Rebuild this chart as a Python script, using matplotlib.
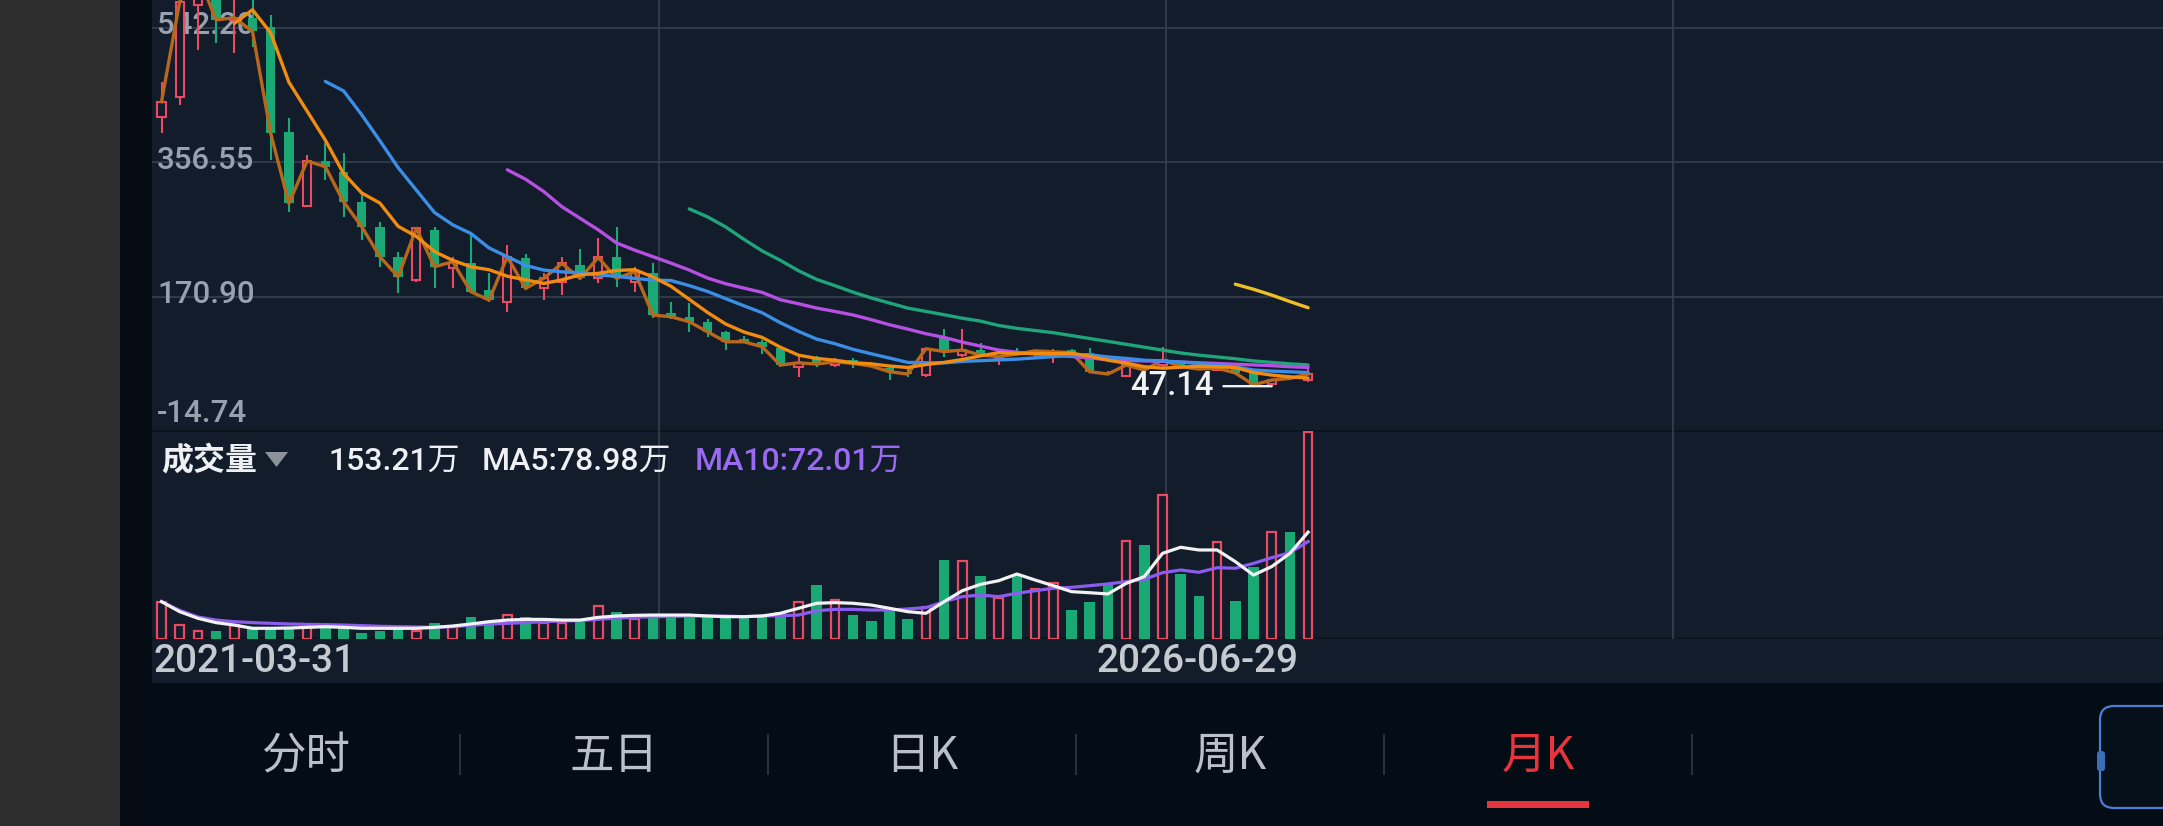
import numpy as np
import matplotlib
matplotlib.use('Agg')
import matplotlib.pyplot as plt
from matplotlib.patches import Rectangle, Polygon, FancyBboxPatch
from matplotlib.transforms import IdentityTransform

W, H = 2163, 826
DPI = 100

# ---------------- data ----------------
first_date = '2021-03-31'
last_date = '2026-06-29'
price_ticks = [542.20, 356.55, 170.90, -14.74]

opens = [419.3, 446.9, 574.0, 595.0, 553.0, 556.0, 543.6, 398.6, 296.4, 358.1,
         343.3, 301.9, 267.4, 225.9, 193.7, 262.8, 209.8, 216.7, 179.9, 163.8,
         223.6, 182.2, 191.4, 214.4, 196.0, 225.9, 191.4, 202.9, 148.0, 143.1,
         136.1, 122.3, 111.7, 108.5, 99.3, 73.1, 84.1, 76.3, 83.2, 78.6,
         71.7, 67.1, 62.5, 115.0, 90.1, 97.0, 85.0, 94.7, 92.0, 86.9,
         97.0, 92.4, 67.1, 61.1, 71.7, 76.3, 78.6, 74.0, 70.0, 72.0,
         65.5, 49.5, 61.1, 55.6]
highs = [467.7, 590.0, 625.0, 600.0, 585.0, 585.0, 559.7, 417.0, 366.4, 382.5,
         368.7, 313.4, 274.3, 232.9, 267.4, 267.4, 225.9, 255.9, 202.9, 242.1,
         229.6, 202.9, 225.0, 236.5, 251.3, 266.5, 212.1, 216.7, 164.0, 161.5,
         139.4, 123.7, 116.4, 110.8, 101.6, 86.9, 88.7, 85.5, 85.5, 80.9,
         73.1, 71.7, 100.0, 125.6, 125.6, 107.2, 89.0, 99.3, 97.0, 97.9,
         97.9, 99.3, 68.0, 78.0, 74.0, 101.6, 80.0, 76.0, 74.0, 73.0,
         66.0, 57.0, 62.5, 71.7]
lows = [396.3, 435.4, 511.4, 520.6, 506.8, 516.0, 359.5, 288.1, 295.0, 331.8,
        281.2, 249.0, 212.1, 175.3, 191.4, 182.2, 182.2, 175.3, 163.8, 150.0,
        179.9, 166.1, 173.0, 193.7, 189.1, 183.6, 177.6, 140.8, 140.0, 122.3,
        114.5, 97.0, 106.2, 91.5, 73.1, 60.2, 74.0, 73.1, 71.7, 73.1,
        55.6, 60.2, 60.2, 88.0, 87.8, 87.8, 76.3, 90.0, 88.0, 79.5,
        92.4, 64.8, 63.0, 61.0, 67.1, 74.0, 72.0, 69.0, 68.0, 64.0,
        48.0, 47.14, 56.0, 53.3]
closes = [440.0, 578.0, 615.0, 553.0, 556.0, 537.0, 396.3, 299.6, 358.1, 350.3,
          301.9, 267.4, 225.9, 198.3, 265.1, 212.1, 219.0, 177.6, 166.1, 225.9,
          182.2, 196.0, 216.7, 196.0, 225.0, 196.0, 205.2, 145.4, 143.0, 136.1,
          122.3, 108.5, 108.5, 101.6, 76.3, 79.5, 77.7, 80.9, 78.6, 74.9,
          67.1, 63.9, 98.9, 95.0, 97.0, 90.1, 88.0, 91.5, 96.0, 94.7,
          93.4, 67.1, 63.9, 76.3, 69.4, 83.2, 74.0, 70.8, 72.0, 65.5,
          49.0, 55.6, 57.9, 63.9]

ma5 = [None] * 4 + [548, 567, 535, 467, 427, 387, 341, 314, 300, 268,
                    254, 233, 221, 212, 208, 199, 194, 189, 194, 201,
                    203, 207, 208, 198, 185, 167, 149, 133, 122, 114.5,
                    101, 90, 85.5, 83, 79.5, 78, 75, 73, 77, 80,
                    84, 89, 93.5, 92.3, 92.5, 92, 92.7, 88.5, 83, 79,
                    74, 72, 73.4, 74.7, 74, 73, 66, 62.5, 60, 58.4]
ma10 = [None] * 9 + [468, 455, 422, 386, 349, 318, 287, 270, 258, 238,
                     226, 214, 207.5, 205, 204, 200.6, 199, 196, 193.7, 193,
                     186, 178, 168, 158.2, 148.6, 134.8, 122.8, 112.2, 105.8, 98,
                     91.9, 86, 80, 79.5, 79.3, 81.4, 82.4, 83.4, 84.5, 86.2,
                     88, 90, 90.5, 87.5, 85.5, 83, 82, 80.5, 78.5, 76.5,
                     73.6, 69.5, 68, 67, 66]
ma20 = [None] * 19 + [346, 333, 316, 295, 279, 263, 245, 235, 226, 217,
                      207.5, 196.5, 188.6, 182.6, 176.7, 166.5, 161, 155, 150.4, 145.5,
                      139, 132, 126, 119.6, 114.5, 108, 102.5, 97, 94, 91.6,
                      89.6, 88.2, 86.1, 83.8, 82.6, 82, 81.5, 80.5, 79.5, 78.5,
                      77.5, 76.5, 75.5, 74, 73]
ma30 = [None] * 29 + [292, 281, 267, 250, 234, 221, 206.6, 194.6, 186, 177,
                      169, 162, 155, 150.4, 145.8, 141, 137, 131, 127, 124,
                      121, 117, 113, 109, 105, 101, 97, 93, 90, 87.5,
                      85, 82, 80, 78, 76.5]
ma60 = [None] * 59 + [188, 181, 173, 164, 155.5]

volumes = [27.6, 10.3, 6.2, 6.2, 10.3, 9.1, 8.6, 8.6, 8.6, 9.1,
           7.9, 4.7, 6.2, 7.1, 6.2, 12.1, 9.1, 16.5, 11.6, 17.7,
           16.5, 12.1, 12.1, 14.5, 24.4, 20.2, 14.5, 16.0, 16.0, 18.5,
           16.0, 17.0, 16.5, 16.5, 20.2, 27.6, 39.9, 28.8, 17.7, 13.3,
           22.7, 14.8, 23.9, 58.4, 57.9, 46.6, 30.1, 47.3, 36.7, 41.1,
           21.4, 27.6, 39.9, 72.7, 69.5, 106.7, 48.0, 31.8, 71.9, 28.1,
           53.5, 79.3, 78.8, 153.21]
vol_ma5 = [27.6, 20.2, 15.3, 12.1, 10.3, 7.9, 7.9, 8.1, 8.6, 9.1,
           8.6, 7.9, 7.9, 7.9, 7.9, 8.6, 9.6, 11.1, 12.8, 14.0,
           14.5, 14.5, 14.0, 14.0, 16.0, 17.0, 17.5, 17.7, 17.7, 17.7,
           17.0, 16.5, 16.5, 17.0, 19.0, 22.7, 26.4, 26.9, 26.4, 25.1,
           22.7, 20.2, 19.0, 27.6, 35.7, 40.4, 43.1, 48.0, 43.6, 39.4,
           35.0, 34.2, 33.3, 41.1, 46.1, 63.3, 67.8, 65.8, 65.8, 57.2,
           47.3, 53.5, 63.3, 78.98]
vol_ma10 = [27.6, 21.2, 16.3, 14.0, 12.8, 12.1, 11.6, 11.1, 10.8, 10.6,
            10.3, 9.9, 9.4, 9.1, 8.9, 8.6, 9.1, 10.1, 11.1, 11.6,
            12.1, 12.8, 13.3, 13.6, 14.5, 15.5, 16.0, 16.5, 16.7, 17.0,
            17.0, 17.0, 16.5, 17.0, 17.2, 17.7, 20.9, 21.9, 21.9, 21.4,
            21.4, 22.2, 23.2, 27.6, 31.3, 32.5, 31.3, 33.8, 35.7, 37.5,
            38.2, 39.4, 40.7, 42.4, 44.1, 49.0, 51.0, 49.3, 52.7, 52.3,
            55.9, 60.1, 63.8, 72.01]

vol_label = '成交量'
tabs = ['分时', '五日', '日K', '周K', '月K']
active_tab = '月K'

# ---------------- style ----------------
BG = '#121c2b'
GRID = '#364150'
RED = '#ec4a62'
GREEN = '#1aa874'
CLOSE_C = '#b9681b'
MA5_C = '#f28c10'
MA10_C = '#3a8ee6'
MA20_C = '#b84fe3'
MA30_C = '#1fa57a'
MA60_C = '#f0bf25'
VMA5_C = '#f2f2f2'
VMA10_C = '#8b5cf0'
NUMF = ['Roboto', 'Noto Sans CJK SC', 'DejaVu Sans']
CJKF = ['Noto Sans CJK SC', 'DejaVu Sans']

fig = plt.figure(figsize=(W / DPI, H / DPI), dpi=DPI)
fig.patch.set_facecolor(BG)


def fx(x):
    return x / W


def fy(y):
    return 1 - y / H


def prect(x0, y0, x1, y1, color, z=-10):
    fig.add_artist(Rectangle((fx(x0), fy(y1)), (x1 - x0) / W, (y1 - y0) / H,
                             transform=fig.transFigure, facecolor=color,
                             edgecolor='none', zorder=z))


# page backgrounds
prect(0, 0, 120, H, '#2e2e2e')
prect(120, 0, 152, H, '#060c14')
prect(152, 683, W, H, '#040c16')
prect(152, 430, W, 432, '#0c131d', z=-9)
prect(152, 637, W, 639, '#0e1620', z=-9)

# ---------------- axes ----------------
PANEL_L, PANEL_W = 152, 2028
P_TOP, P_BOT = 0, 431
V_TOP, V_BOT = 431, 639
SLOT = 18.2
FIRST_C = 161.5

ax_p = fig.add_axes([fx(PANEL_L), fy(P_BOT), PANEL_W / W, (P_BOT - P_TOP) / H])
ax_v = fig.add_axes([fx(PANEL_L), fy(V_BOT), PANEL_W / W, (V_BOT - V_TOP) / H])
for ax in (ax_p, ax_v):
    ax.set_axis_off()

x0 = (PANEL_L - FIRST_C) / SLOT
x1 = (PANEL_L + PANEL_W - FIRST_C) / SLOT
ax_p.set_xlim(x0, x1)
ax_v.set_xlim(x0, x1)

step = price_ticks[0] - price_ticks[1]
ytop = price_ticks[0] + step * 27.7 / 134.4
ax_p.set_ylim(price_ticks[-1], ytop)

vmax = max(volumes)
ax_v.set_ylim(0, vmax * 1.0035)

# grid
for t in price_ticks[:3]:
    ax_p.axhline(t, color=GRID, lw=1.2, zorder=0)
for f in (0.25, 0.5, 0.75):
    xv = x0 + f * (x1 - x0)
    ax_p.axvline(xv, color=GRID, lw=1.2, zorder=0)
    ax_v.axvline(xv, color=GRID, lw=1.2, zorder=0)

# price labels
for i, t in enumerate(price_ticks):
    dy = 17 if i == len(price_ticks) - 1 else 2
    ax_p.annotate(f'{t:.2f}', xy=(0, t), xycoords=('axes fraction', 'data'),
                  xytext=(5, dy), textcoords='offset pixels', ha='left',
                  va='center', color='#98a1ae', fontsize=22.5, family=NUMF,
                  fontweight='medium', zorder=1)

# ---------------- candles ----------------
o = np.array(opens, float)
h = np.array(highs, float)
l = np.array(lows, float)
c = np.array(closes, float)
n = len(c)
idx = np.arange(n)
up = c >= o
dn = ~up
lo = np.minimum(o, c)
hi = np.maximum(o, c)
hgt = np.maximum(hi - lo, 0.8)

ax_p.vlines(idx[dn], l[dn], h[dn], color=GREEN, lw=1.5, zorder=2)
ax_p.bar(idx[dn], hgt[dn], bottom=lo[dn], width=0.52, color=GREEN, lw=0, zorder=3)
ax_p.vlines(idx[up], hi[up], h[up], color=RED, lw=1.5, zorder=2)
ax_p.vlines(idx[up], l[up], lo[up], color=RED, lw=1.5, zorder=2)
ax_p.bar(idx[up], hgt[up], bottom=lo[up], width=0.44, facecolor=BG,
         edgecolor=RED, lw=1.5, zorder=3)

# lines
ax_p.plot(idx, c, color=CLOSE_C, lw=2.4, zorder=4)
for arr, col in ((ma60, MA60_C), (ma30, MA30_C), (ma20, MA20_C),
                 (ma10, MA10_C), (ma5, MA5_C)):
    ax_p.plot(idx, np.array(arr, dtype=float), color=col, lw=2.4, zorder=4,
              solid_capstyle='round')

# lowest-price marker
i_low = int(np.argmin(l))
ax_p.annotate(f'{l[i_low]:.2f}', xy=(i_low, l[i_low]), xytext=(-58, 0),
              textcoords='offset pixels', ha='right', va='center',
              color='#f0f2f5', fontsize=23.5, family=NUMF, fontweight='medium',
              zorder=6,
              arrowprops=dict(arrowstyle='-', color='#f0f2f5', lw=1.7,
                              shrinkA=5, shrinkB=0))

# ---------------- volume ----------------
v = np.array(volumes, float)
ax_v.bar(idx[dn], v[dn], width=0.58, color=GREEN, lw=0, zorder=2)
ax_v.bar(idx[up], v[up], width=0.48, facecolor=BG, edgecolor=RED, lw=1.6, zorder=2)
ax_v.plot(idx, vol_ma10, color=VMA10_C, lw=2.3, zorder=3)
ax_v.plot(idx, vol_ma5, color=VMA5_C, lw=2.3, zorder=4)

# volume header
HY = 461
fig.text(fx(161), fy(HY), vol_label, fontsize=23, color='#eef0f3',
         family=CJKF, fontweight='bold', ha='left', va='center')
fig.add_artist(Polygon([(fx(265), fy(452)), (fx(288), fy(452)), (fx(276.5), fy(467))],
                       closed=True, transform=fig.transFigure,
                       facecolor='#8b929c', edgecolor='none'))
fig.text(fx(328), fy(HY), f'{v[-1]:.2f}万', fontsize=23, color='#eef0f3',
         family=NUMF, fontweight='medium', ha='left', va='center')
fig.text(fx(482), fy(HY), f'MA5:{vol_ma5[-1]:.2f}万', fontsize=23,
         color='#eef0f3', family=NUMF, fontweight='medium', ha='left', va='center')
fig.text(fx(695), fy(HY), f'MA10:{vol_ma10[-1]:.2f}万', fontsize=23,
         color='#9a6af0', family=NUMF, fontweight='medium', ha='left', va='center')

# dates
ax_v.annotate(first_date, xy=(0, 0), xytext=(-8, -22), textcoords='offset pixels',
              ha='left', va='center', color='#c5cad1', fontsize=28,
              family=NUMF, fontweight='medium', annotation_clip=False)
ax_v.annotate(last_date, xy=(n - 1, 0), xytext=(-10, -22), textcoords='offset pixels',
              ha='right', va='center', color='#c5cad1', fontsize=28,
              family=NUMF, fontweight='medium', annotation_clip=False)

# ---------------- tab bar ----------------
TAB_W = 308
for k, t in enumerate(tabs):
    cx = PANEL_L + TAB_W * (k + 0.5)
    col = '#e8343c' if t == active_tab else '#b9c0ca'
    fig.text(fx(cx), fy(756), t, fontsize=32, color=col, family=CJKF,
             ha='center', va='center')
    if t == active_tab:
        prect(cx - 51, 801, cx + 51, 808, '#e8343c', z=5)
for k in range(5):
    sx = PANEL_L + TAB_W * (k + 1)
    prect(sx - 0.7, 734, sx + 0.7, 775, '#273140', z=5)

fig.add_artist(FancyBboxPatch((2100, H - 808), 130, 102,
                              boxstyle='round,pad=0,rounding_size=14',
                              transform=IdentityTransform(),
                              facecolor='#06101b', edgecolor='#4a7fd3', lw=1.6,
                              zorder=5))
fig.add_artist(FancyBboxPatch((2097, H - 771), 8, 20,
                              boxstyle='round,pad=0,rounding_size=3',
                              transform=IdentityTransform(),
                              facecolor='#3d6fb8', edgecolor='none', zorder=6))

fig.savefig('out.png', dpi=DPI, facecolor=fig.get_facecolor())
